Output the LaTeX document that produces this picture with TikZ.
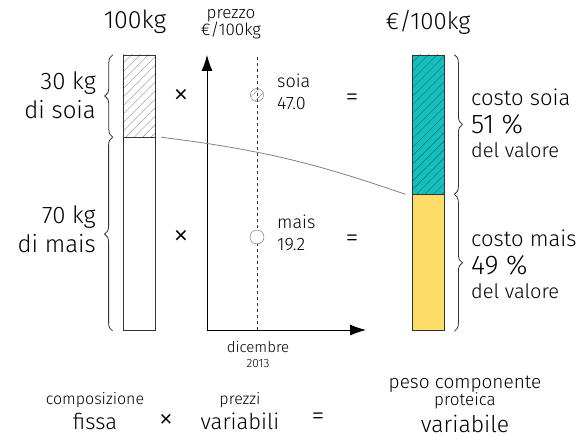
\documentclass[tikz,border=0pt]{standalone}
\usepackage{fontspec}
\setmainfont{Fira Sans Light}
\usetikzlibrary{positioning,patterns.meta,arrows.meta,decorations.pathreplacing}
\definecolor{soiateal}{RGB}{22,190,190}
\definecolor{maisyellow}{RGB}{253,220,104}
\tikzset{
	bar/.style={draw=black!80,thick,minimum width=32,inner sep=0},
	hatch/.style={pattern={Lines[angle=45,distance=6pt,line width=0.4pt]},pattern color=#1},
	lab/.style={font=\fontsize{#1}{\numexpr#1*6/5\relax}\selectfont,inner sep=0},
	brace/.style={decorate,decoration={brace,amplitude=8},thick,black!80}
}
\begin{document}
\begin{tikzpicture}[x=1pt,y=-1pt]
	\useasboundingbox (0,0) rectangle (585,441);
	% composizione fissa
	\node [bar,minimum height=82,hatch=black!45] (soia) at (139,96) {};
	\node [bar,minimum height=193,below=0 of soia] (mais) {};
	% peso componente
	\node [bar,minimum height=139,preaction={fill=soiateal},hatch=black!40!soiateal] (csoia) at (428,124.5) {};
	\node [bar,minimum height=136,fill=maisyellow,below=0 of csoia] (cmais) {};
	% braces
	\draw [brace] ([xshift=-10]soia.south west) -- ([xshift=-10]soia.north west);
	\draw [brace] ([xshift=-10]mais.south west) -- ([xshift=-10]mais.north west);
	\draw [brace] ([xshift=10]csoia.north east) -- ([xshift=10]csoia.south east);
	\draw [brace] ([xshift=10]cmais.north east) -- ([xshift=10]cmais.south east);
	% prezzi
	\coordinate (o) at (207,330);
	\coordinate (dic) at (257,330);
	\draw [thick,-{Latex[length=16,width=11]}] (o) -- (207,55);
	\draw [thick,-{Latex[length=16,width=11]}] (o) -- (366,330);
	\draw [dashed,black!80] (dic) -- (257,55);
	\node [circle,draw=black!60,minimum size=13,inner sep=0,hatch=black!50] (psoia) at (257,95) {};
	\node [circle,draw=black!60,minimum size=14,inner sep=0,fill=white] (pmais) at (257,237) {};
	\draw [black!50,thick] ([xshift=6]soia.south east) to[bend left=6] ([xshift=-6]csoia.south west);
	% testi
	\node [lab=25] (kg) at (135,22) {100kg};
	\node [lab=17,align=center] (prezzo) at (231,24) {prezzo\\[-3pt]€/100kg};
	\node [lab=24] (euro) at (428,22) {€/100kg};
	\node [lab=24,align=right,anchor=east] (kgsoia) at (96,95) {30 kg\\di soia};
	\node [lab=24,align=right,anchor=east] (kgmais) at (96,229) {70 kg\\di mais};
	\node [lab=32] (x1) at (181,97) {×};
	\node [lab=32] (x2) at (181,238) {×};
	\node [lab=18,align=left,anchor=west] (lsoia) at (277,92) {soia\\47.0};
	\node [lab=18,align=left,anchor=west] (lmais) at (277,233) {mais\\19.2};
	\node [lab=26] (eq1) at (352,100) {=};
	\node [lab=26] (eq2) at (352,241) {=};
	\node [lab=22,anchor=base west] (csoiatxt) at (471,105) {costo soia};
	\node [lab=27,anchor=base west] (psoiatxt) at (471,133) {51 \%};
	\node [lab=20,anchor=base west] (vsoiatxt) at (471,157) {del valore};
	\node [lab=22,anchor=base west] (cmaistxt) at (471,246) {costo mais};
	\node [lab=27,anchor=base west] (pmaistxt) at (471,274) {49 \%};
	\node [lab=20,anchor=base west] (vmaistxt) at (471,298) {del valore};
	\node [lab=15,anchor=base] (dicembre) at (258,352) {dicembre};
	\node [lab=12,anchor=base] (anno) at (258,367) {2013};
	% riga in basso
	\node [lab=16,anchor=base] (compo) at (95,404) {composizione};
	\node [lab=22,anchor=base] (fissa) at (95,429) {fissa};
	\node [lab=30] (x3) at (166,421) {×};
	\node [lab=16,anchor=base] (prezzi) at (240,404) {prezzi};
	\node [lab=22,anchor=base] (variabili) at (240,429) {variabili};
	\node [lab=26] (eq3) at (318,419) {=};
	\node [lab=19,anchor=base] (peso) at (465,388) {peso componente};
	\node [lab=17,anchor=base] (proteica) at (465,405) {proteica};
	\node [lab=23,anchor=base] (variabile) at (465,432) {variabile};
\end{tikzpicture}
\end{document}
